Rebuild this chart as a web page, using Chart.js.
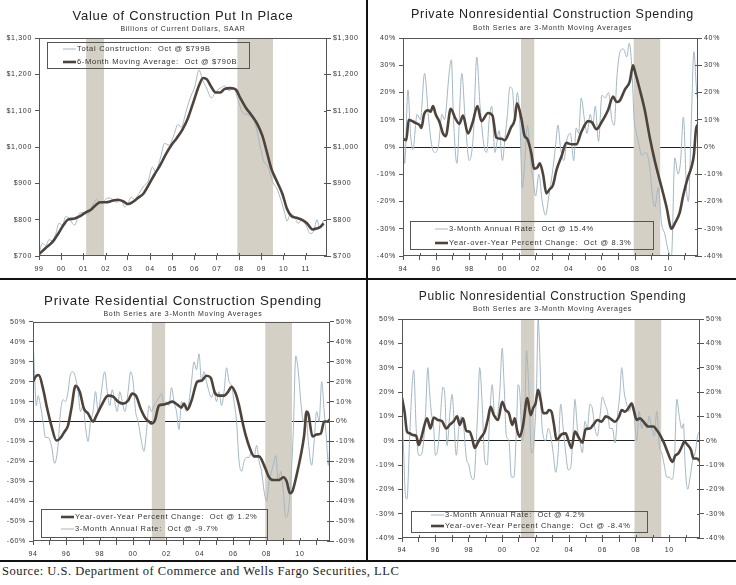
<!DOCTYPE html>
<html>
<head>
<meta charset="utf-8">
<script src="https://cdn.jsdelivr.net/npm/chart.js@4.4.0/dist/chart.umd.min.js"></script>
<style>
  body { margin: 0; background: #fff; width: 736px; height: 585px; position: relative; overflow: hidden; }
  .panel { position: absolute; }
  .vline { position: absolute; left: 366px; top: 0; width: 2px; height: 561px; background: #111; }
  .hline { position: absolute; left: 0; width: 736px; height: 2px; background: #111; }
  .source { position: absolute; left: 2px; top: 564px; font: 12.5px "Liberation Serif", serif; letter-spacing: 0.5px; color: #222; }
</style>
</head>
<body>
<div class="panel" style="left:0;top:0;width:366px;height:278px"><canvas id="chartTotal"></canvas></div>
<div class="panel" style="left:369px;top:0;width:367px;height:278px"><canvas id="chartPrivNonres"></canvas></div>
<div class="panel" style="left:0;top:281px;width:366px;height:279px"><canvas id="chartResidential"></canvas></div>
<div class="panel" style="left:369px;top:281px;width:367px;height:279px"><canvas id="chartPublic"></canvas></div>
<div class="vline"></div>
<div class="hline" style="top:278px"></div>
<div class="hline" style="top:560px"></div>
<div class="source">Source: U.S. Department of Commerce and Wells Fargo Securities, LLC</div>

<script>
// recession periods (decimal years)
const recessions = [[2001.12, 2001.92], [2007.92, 2009.52]];

// Value of Construction Put In Place, $ billions SAAR
const totalConstruction = [[1999.0,705],[1999.15,735],[1999.3,728],[1999.45,745],[1999.6,742],[1999.75,760],[1999.9,790],[2000.05,785],[2000.2,808],[2000.35,805],[2000.5,790],[2000.6,785],[2000.8,815],[2001.0,820],[2001.2,815],[2001.4,838],[2001.6,856],[2001.75,842],[2001.9,850],[2002.1,860],[2002.3,856],[2002.5,848],[2002.7,855],[2002.85,835],[2003.0,845],[2003.15,862],[2003.3,855],[2003.5,872],[2003.7,892],[2003.9,905],[2004.1,945],[2004.25,932],[2004.45,968],[2004.65,1010],[2004.85,1005],[2005.05,1030],[2005.25,1062],[2005.4,1055],[2005.6,1095],[2005.8,1135],[2006.0,1165],[2006.2,1212],[2006.35,1185],[2006.55,1160],[2006.75,1135],[2006.95,1152],[2007.15,1162],[2007.35,1168],[2007.55,1155],[2007.75,1162],[2007.95,1130],[2008.15,1095],[2008.35,1090],[2008.55,1082],[2008.75,1058],[2008.95,1000],[2009.1,962],[2009.3,945],[2009.5,905],[2009.7,885],[2009.9,850],[2010.05,818],[2010.15,796],[2010.3,815],[2010.5,808],[2010.65,790],[2010.85,800],[2011.0,785],[2011.2,762],[2011.35,768],[2011.5,800],[2011.62,776],[2011.8,799]];
const totalMovingAvg = [[1999.0,705],[1999.3,722],[1999.6,738],[1999.85,760],[2000.1,785],[2000.3,800],[2000.6,803],[2000.85,810],[2001.1,820],[2001.35,828],[2001.55,840],[2001.75,848],[2002.0,848],[2002.3,852],[2002.55,855],[2002.8,850],[2003.0,843],[2003.2,848],[2003.45,860],[2003.7,872],[2003.95,898],[2004.2,925],[2004.45,950],[2004.7,980],[2004.95,1005],[2005.2,1025],[2005.45,1048],[2005.7,1080],[2005.95,1125],[2006.2,1170],[2006.38,1190],[2006.55,1186],[2006.75,1165],[2006.95,1150],[2007.15,1150],[2007.35,1160],[2007.6,1162],[2007.85,1158],[2008.05,1135],[2008.3,1108],[2008.55,1088],[2008.8,1065],[2009.05,1030],[2009.25,985],[2009.45,940],[2009.7,905],[2009.95,870],[2010.15,830],[2010.35,810],[2010.6,805],[2010.85,799],[2011.05,790],[2011.3,773],[2011.5,776],[2011.65,780],[2011.8,790]];

// Private nonresidential, %
const privNonresRate = [[1994.0,10],[1994.1,-6],[1994.3,21],[1994.45,5],[1994.6,-1],[1994.85,12],[1995.05,10],[1995.3,27],[1995.55,10],[1995.75,0],[1995.95,-2],[1996.15,1],[1996.35,12],[1996.5,10],[1996.8,28],[1996.92,32],[1997.05,10],[1997.25,-6],[1997.55,27],[1997.75,10],[1998.0,-5],[1998.25,5],[1998.45,33],[1998.65,15],[1998.9,0],[1999.05,-2],[1999.2,10],[1999.35,15],[1999.55,-2],[1999.8,6],[2000.0,-5],[2000.15,3],[2000.3,12],[2000.45,22],[2000.6,21],[2000.75,10],[2000.9,20],[2001.05,10],[2001.2,-15],[2001.35,-5],[2001.5,8],[2001.7,-5],[2001.85,-12],[2002.0,-18],[2002.2,-10],[2002.4,-20],[2002.6,-25],[2002.8,-18],[2003.0,-10],[2003.2,0],[2003.35,8],[2003.5,0],[2003.7,-5],[2003.9,3],[2004.1,5],[2004.3,-5],[2004.45,7],[2004.6,5],[2004.75,18],[2004.95,10],[2005.1,5],[2005.3,12],[2005.45,8],[2005.6,15],[2005.8,2],[2006.0,19],[2006.2,18],[2006.4,20],[2006.6,10],[2006.75,8],[2006.9,25],[2007.1,35],[2007.3,36],[2007.5,33],[2007.65,38],[2007.8,30],[2007.95,10],[2008.05,6],[2008.2,2],[2008.4,-3],[2008.6,-2],[2008.75,-3],[2008.9,-8],[2009.05,-18],[2009.2,-22],[2009.4,-15],[2009.6,-28],[2009.8,-32],[2010.0,-38],[2010.2,-40],[2010.4,-4],[2010.6,-10],[2010.75,-5],[2010.92,11],[2011.1,-15],[2011.22,-20],[2011.4,10],[2011.55,35],[2011.7,22],[2011.8,15.4]];
const privNonresYoY = [[1994.0,3],[1994.2,2.5],[1994.34,10],[1994.7,9],[1995.0,8],[1995.11,7],[1995.27,12],[1995.51,13.5],[1995.67,13],[1995.81,15],[1995.97,12],[1996.21,9],[1996.41,5],[1996.58,4],[1996.88,14],[1997.16,10.5],[1997.4,8.5],[1997.62,11.5],[1997.92,5],[1998.2,9],[1998.49,15],[1998.73,9.5],[1999.13,12.5],[1999.4,11.5],[1999.63,3.5],[1999.94,3],[2000.14,2.5],[2000.34,4.5],[2000.5,7],[2000.74,10],[2000.88,16],[2001.14,10.5],[2001.34,4],[2001.5,3],[2001.75,-2.5],[2001.91,-8],[2002.11,-7.5],[2002.25,-6],[2002.45,-10],[2002.65,-17],[2002.85,-15.5],[2003.05,-14],[2003.26,-8.5],[2003.56,-3.5],[2003.86,1.5],[2004.16,1],[2004.46,1],[2004.76,5.5],[2005.17,9.5],[2005.41,9],[2005.67,6.5],[2005.97,9],[2006.37,13.5],[2006.68,18.5],[2006.88,16.5],[2007.08,17],[2007.38,21],[2007.68,24],[2007.88,30],[2007.98,28],[2008.29,21],[2008.59,13.5],[2008.89,3.5],[2009.19,-5],[2009.59,-14.5],[2009.9,-22],[2010.2,-30],[2010.4,-28],[2010.7,-24],[2010.9,-18],[2011.2,-11],[2011.4,-7.5],[2011.55,-3],[2011.68,6.5],[2011.8,8.3]];

// Private residential, %
const residentialYoY = [[1994.0,20],[1994.2,23],[1994.35,23.3],[1994.6,16.5],[1994.85,6.5],[1995.1,-2],[1995.4,-9.5],[1995.6,-8.7],[1995.9,-5],[1996.1,-2],[1996.3,6.5],[1996.55,18],[1996.8,15],[1997.05,6.5],[1997.3,4],[1997.6,0],[1997.8,3],[1998.1,8],[1998.5,13],[1998.8,12.5],[1999.1,10],[1999.4,9],[1999.7,10.5],[1999.95,14],[2000.2,12.5],[2000.45,6.5],[2000.75,1.5],[2000.95,0],[2001.1,-1],[2001.3,0.5],[2001.55,8],[2001.8,8.5],[2002.05,9],[2002.35,10],[2002.65,8.5],[2002.9,7],[2003.05,9],[2003.25,6],[2003.5,10.5],[2003.85,20],[2004.1,20.5],[2004.4,23],[2004.65,22],[2004.9,14.5],[2005.15,13],[2005.45,13],[2005.7,15],[2005.9,17.5],[2006.15,14],[2006.35,8],[2006.55,0],[2006.75,-7],[2007.0,-13.5],[2007.25,-17.5],[2007.55,-17.5],[2007.85,-22],[2008.15,-28],[2008.4,-29.4],[2008.75,-29.4],[2009.0,-28],[2009.2,-30],[2009.4,-36],[2009.55,-35],[2009.85,-25],[2010.05,-17],[2010.25,-7],[2010.4,5],[2010.5,4],[2010.75,-7.5],[2011.0,-6.5],[2011.25,-6],[2011.45,0],[2011.65,0],[2011.8,1.2]];
const residentialRate = [[1994.0,43],[1994.1,22],[1994.2,8],[1994.3,13],[1994.45,8],[1994.6,0],[1994.75,-8],[1994.9,-8],[1995.1,-12],[1995.3,-21],[1995.5,-12],[1995.65,5],[1995.8,11],[1995.95,10],[1996.1,15],[1996.25,24],[1996.4,25],[1996.55,22],[1996.7,15],[1996.85,5],[1997.0,8],[1997.15,-3],[1997.3,-10],[1997.45,0],[1997.6,5],[1997.75,15],[1997.9,5],[1998.05,12],[1998.3,25],[1998.45,15],[1998.6,8],[1998.75,16],[1998.9,10],[1999.05,5],[1999.2,15],[1999.35,10],[1999.5,5],[1999.7,15],[1999.85,25],[2000.0,20],[2000.15,5],[2000.3,0],[2000.5,-10],[2000.65,-15],[2000.8,-5],[2000.95,8],[2001.1,5],[2001.25,8],[2001.4,10],[2001.55,12],[2001.7,14],[2001.85,8],[2002.0,10],[2002.15,8],[2002.3,17],[2002.45,10],[2002.6,5],[2002.75,-4],[2002.9,10],[2003.05,8],[2003.2,5],[2003.35,10],[2003.5,20],[2003.65,30],[2003.8,26],[2003.95,34],[2004.1,20],[2004.25,25],[2004.4,20],[2004.55,15],[2004.7,12],[2004.85,15],[2005.0,10],[2005.15,15],[2005.3,8],[2005.45,15],[2005.6,27],[2005.75,20],[2005.9,18],[2006.05,10],[2006.2,0],[2006.35,-20],[2006.5,-25],[2006.65,-20],[2006.8,-18],[2006.95,-18],[2007.1,-15],[2007.25,-18],[2007.4,-12],[2007.55,-20],[2007.7,-25],[2007.85,-35],[2008.0,-40],[2008.15,-30],[2008.3,-25],[2008.45,-20],[2008.55,-17],[2008.7,-30],[2008.85,-25],[2009.0,-35],[2009.15,-48],[2009.3,-45],[2009.45,-30],[2009.6,-5],[2009.75,33],[2009.9,25],[2010.05,10],[2010.2,0],[2010.35,5],[2010.5,-10],[2010.7,-22],[2010.85,-10],[2011.0,5],[2011.15,0],[2011.3,20],[2011.45,5],[2011.6,-10],[2011.7,-22],[2011.8,-9.7]];

// Public nonresidential, %
const publicRate = [[1994.0,15],[1994.1,-5],[1994.2,-22],[1994.3,-24],[1994.45,0],[1994.6,22],[1994.7,29],[1994.85,5],[1995.0,-6],[1995.1,-6],[1995.25,-3],[1995.4,10],[1995.55,30],[1995.65,20],[1995.75,12],[1995.9,5],[1996.0,-6],[1996.15,-3],[1996.3,10],[1996.45,22],[1996.55,20],[1996.7,-2],[1996.85,10],[1997.0,19],[1997.1,10],[1997.25,-6],[1997.4,5],[1997.55,10],[1997.7,5],[1997.85,-7],[1998.0,-10],[1998.15,-15],[1998.3,-16],[1998.45,0],[1998.55,15],[1998.65,30],[1998.8,15],[1998.95,-8],[1999.1,-10],[1999.25,10],[1999.4,23],[1999.55,10],[1999.7,10],[1999.85,20],[2000.0,38],[2000.1,25],[2000.25,2],[2000.4,0],[2000.55,-15],[2000.7,-15],[2000.85,5],[2000.95,23],[2001.05,20],[2001.2,0],[2001.35,10],[2001.45,37],[2001.6,20],[2001.75,-5],[2001.85,-4],[2001.95,5],[2002.05,20],[2002.15,50],[2002.25,35],[2002.35,10],[2002.45,2],[2002.6,0],[2002.75,5],[2002.9,2],[2003.05,-5],[2003.2,-13],[2003.35,-5],[2003.5,15],[2003.65,5],[2003.8,-5],[2003.95,-12],[2004.1,-11],[2004.25,5],[2004.35,17],[2004.5,5],[2004.65,0],[2004.8,-5],[2004.95,8],[2005.1,5],[2005.25,15],[2005.4,13],[2005.55,5],[2005.7,2],[2005.85,10],[2006.0,18],[2006.15,15],[2006.3,12],[2006.45,5],[2006.6,5],[2006.75,-1],[2006.9,10],[2007.05,20],[2007.15,30],[2007.3,20],[2007.45,15],[2007.6,12],[2007.75,14],[2007.9,10],[2008.05,0],[2008.2,12],[2008.35,5],[2008.5,8],[2008.65,5],[2008.8,10],[2008.95,5],[2009.1,2],[2009.25,12],[2009.4,-2],[2009.55,-5],[2009.7,-10],[2009.85,-15],[2010.0,-15],[2010.15,-16],[2010.3,-10],[2010.45,17],[2010.6,10],[2010.75,5],[2010.85,7],[2010.95,-10],[2011.1,-20],[2011.25,-15],[2011.4,-8],[2011.55,-5],[2011.7,2],[2011.84,4.2]];
const publicYoY = [[1994.0,17.5],[1994.15,12],[1994.3,3.7],[1994.45,3],[1994.65,2.3],[1994.85,2],[1995.0,-1.8],[1995.15,1],[1995.35,6.5],[1995.5,9.2],[1995.7,5],[1995.9,9.5],[1996.15,8.5],[1996.4,8],[1996.65,5],[1996.85,6.5],[1997.1,8],[1997.3,10],[1997.45,6.5],[1997.65,9.2],[1997.85,4],[1998.05,3.7],[1998.2,1],[1998.35,-3],[1998.55,-0.7],[1998.75,1.6],[1998.95,3.7],[1999.15,9.2],[1999.3,13.9],[1999.5,10.5],[1999.75,8.5],[2000.0,16],[2000.2,12.6],[2000.4,11.3],[2000.6,6.5],[2000.75,9.2],[2000.9,4],[2001.05,1.6],[2001.25,6.5],[2001.5,17.5],[2001.7,10.5],[2001.85,13.3],[2002.0,15.4],[2002.15,20.9],[2002.3,16.8],[2002.45,11.3],[2002.65,11.3],[2002.8,12.6],[2002.95,11.9],[2003.1,6.5],[2003.25,0.3],[2003.55,2.6],[2003.8,3],[2003.95,0.3],[2004.15,-3],[2004.35,3.7],[2004.6,1],[2004.8,-0.8],[2005.0,4.8],[2005.25,5],[2005.45,6.5],[2005.7,8.5],[2005.95,7.8],[2006.2,10],[2006.45,9.2],[2006.75,7.8],[2007.0,10],[2007.15,12.6],[2007.35,11.9],[2007.55,13.3],[2007.75,15.4],[2007.9,11.9],[2008.05,8.5],[2008.25,9.2],[2008.45,7.8],[2008.75,5.8],[2009.05,5.8],[2009.25,4.4],[2009.45,2.3],[2009.65,-0.4],[2009.85,-3.8],[2010.05,-7.3],[2010.2,-8.7],[2010.35,-6.2],[2010.55,-5.2],[2010.75,-2.5],[2010.9,-0.4],[2011.1,-1.8],[2011.3,-3.8],[2011.45,-7.3],[2011.65,-7.3],[2011.84,-8.4]];

const THICK = '#4d433b';
const THIN = '#a3b7c3';
const FONT = '"Liberation Sans", Arial, sans-serif';

Chart.defaults.font.family = FONT;
Chart.defaults.color = '#333';

const toPoints = (pairs) => pairs.map(([x, y]) => ({ x, y }));

// letter spaced text, recession bands, plot frame, inner tick marks
const decor = {
  id: 'decor',
  beforeDraw(chart) {
    chart.ctx.letterSpacing = '0.7px';
  },
  beforeDatasetsDraw(chart) {
    const { ctx, chartArea: a, scales } = chart;
    ctx.save();
    ctx.fillStyle = '#d5d0c5';
    recessions.forEach(([s, e]) => {
      const x0 = scales.x.getPixelForValue(s);
      const x1 = scales.x.getPixelForValue(e);
      ctx.fillRect(x0, a.top, x1 - x0, a.bottom - a.top);
    });
    ctx.restore();
  },
  afterDatasetsDraw(chart) {
    const { ctx, chartArea: a, scales } = chart;
    ctx.save();
    ctx.strokeStyle = '#555';
    ctx.lineWidth = 1;
    ctx.strokeRect(a.left + 0.5, a.top + 0.5, a.right - a.left - 1, a.bottom - a.top - 1);
    ctx.beginPath();
    scales.x.ticks.forEach((t) => {
      const x = Math.round(scales.x.getPixelForValue(t.value)) + 0.5;
      ctx.moveTo(x, a.bottom);
      ctx.lineTo(x, a.bottom - 3);
    });
    scales.y2.ticks.forEach((t) => {
      const y = Math.round(scales.y2.getPixelForValue(t.value)) + 0.5;
      ctx.moveTo(a.right, y);
      ctx.lineTo(a.right - 3, y);
    });
    ctx.stroke();
    ctx.restore();
  }
};

const boxLegend = {
  id: 'boxLegend',
  afterDatasetsDraw(chart, args, opts) {
    const ctx = chart.ctx;
    ctx.save();
    ctx.strokeStyle = '#555';
    ctx.lineWidth = 1;
    ctx.strokeRect(opts.x + 0.5, opts.y + 0.5, opts.w, opts.h);
    ctx.font = '7.5px ' + FONT;
    ctx.textBaseline = 'middle';
    opts.order.forEach((di, i) => {
      const ds = chart.data.datasets[di];
      const y = opts.y + opts.rows[i];
      ctx.strokeStyle = ds.borderColor;
      ctx.lineWidth = ds.borderWidth;
      ctx.beginPath();
      ctx.moveTo(opts.x + opts.lineX, y);
      ctx.lineTo(opts.x + opts.lineX + 13, y);
      ctx.stroke();
      ctx.fillStyle = '#333';
      ctx.fillText(ds.label, opts.x + opts.lineX + 14, y);
    });
    ctx.restore();
  }
};

function makePanel(id, cfg) {
  const yTicks = (side) => ({
    stepSize: cfg.step,
    padding: side === 'left' ? 3 : 2,
    font: { size: 7 },
    color: '#333',
    callback: cfg.fmt
  });
  return new Chart(document.getElementById(id), {
    type: 'line',
    data: {
      datasets: [
        { label: cfg.thick.label, data: toPoints(cfg.thick.data), borderColor: THICK, borderWidth: 2.6 },
        { label: cfg.thin.label, data: toPoints(cfg.thin.data), borderColor: THIN, borderWidth: 1 }
      ]
    },
    options: {
      responsive: true,
      maintainAspectRatio: false,
      animation: false,
      elements: { point: { radius: 0 }, line: { cubicInterpolationMode: 'monotone' } },
      layout: { padding: 0 },
      plugins: {
        legend: { display: false },
        tooltip: { enabled: false },
        title: { display: true, text: cfg.title, color: '#222', font: { size: cfg.titleSize, weight: 'normal' }, padding: { top: cfg.titleTop, bottom: 0 } },
        subtitle: { display: true, text: cfg.subtitle, color: '#333', font: { size: 7 }, padding: { top: cfg.subTop, bottom: cfg.subBottom } },
        boxLegend: cfg.legend
      },
      scales: {
        x: {
          type: 'linear',
          min: cfg.xMin,
          max: cfg.xMax,
          border: { display: false },
          grid: { drawOnChartArea: false, tickLength: 4, color: '#555' },
          ticks: {
            stepSize: 1,
            includeBounds: false,
            maxRotation: 0,
            autoSkip: false,
            padding: cfg.xPad,
            font: { size: 7 },
            color: '#333',
            callback: (v) => (v % cfg.labelEvery === 0 ? String(v).slice(2) : '')
          },
          afterFit: (s) => { s.height = cfg.xHeight; }
        },
        y: {
          position: 'left',
          min: cfg.yMin,
          max: cfg.yMax,
          border: { display: false },
          grid: {
            drawOnChartArea: true,
            tickLength: 4,
            tickColor: '#555',
            color: (c) => (c.tick && c.tick.value === 0 ? '#222' : 'rgba(0,0,0,0)')
          },
          ticks: yTicks('left'),
          afterFit: (s) => { s.width = cfg.left; }
        },
        y2: {
          position: 'right',
          display: true,
          min: cfg.yMin,
          max: cfg.yMax,
          border: { display: false },
          grid: { drawOnChartArea: false, tickLength: 4, color: '#555' },
          ticks: yTicks('right'),
          afterFit: (s) => { s.width = cfg.right; }
        }
      }
    },
    plugins: [decor, boxLegend]
  });
}

const dollars = (v) => '$' + v.toLocaleString('en-US');
const pct = (v) => v + '%';

makePanel('chartTotal', {
  title: 'Value of Construction Put In Place', titleSize: 13, titleTop: 8.2,
  subtitle: 'Billions of Current Dollars, SAAR', subTop: 1, subBottom: 4.8,
  xMin: 1999, xMax: 2011.95, labelEvery: 1, xPad: 5, xHeight: 22,
  yMin: 700, yMax: 1300, step: 100, fmt: dollars, left: 39, right: 39,
  thick: { label: '6-Month Moving Average:  Oct @ $790B', data: totalMovingAvg },
  thin: { label: 'Total Construction:  Oct @ $799B', data: totalConstruction },
  legend: { x: 47, y: 42, w: 202, h: 26, lineX: 16, rows: [7, 20], order: [1, 0] }
});

makePanel('chartPrivNonres', {
  title: 'Private Nonresidential Construction Spending', titleSize: 12.5, titleTop: 7.5,
  subtitle: 'Both Series are 3-Month Moving Averages', subTop: 1.3, subBottom: 5.8,
  xMin: 1994, xMax: 2011.8, labelEvery: 2, xPad: 5, xHeight: 22,
  yMin: -40, yMax: 40, step: 10, fmt: pct, left: 34, right: 38,
  thick: { label: 'Year-over-Year Percent Change:  Oct @ 8.3%', data: privNonresYoY },
  thin: { label: '3-Month Annual Rate:  Oct @ 15.4%', data: privNonresRate },
  legend: { x: 41, y: 221, w: 243, h: 28, lineX: 25, rows: [8, 22], order: [1, 0] }
});

makePanel('chartResidential', {
  title: 'Private Residential Construction Spending', titleSize: 13.3, titleTop: 12,
  subtitle: 'Both Series are 3-Month Moving Averages', subTop: 0.8, subBottom: 3.8,
  xMin: 1994, xMax: 2011.8, labelEvery: 2, xPad: 5, xHeight: 19,
  yMin: -60, yMax: 50, step: 10, fmt: pct, left: 33, right: 36,
  thick: { label: 'Year-over-Year Percent Change:  Oct @ 1.2%', data: residentialYoY },
  thin: { label: '3-Month Annual Rate:  Oct @ -9.7%', data: residentialRate },
  legend: { x: 41, y: 228, w: 226, h: 28, lineX: 20, rows: [8, 20], order: [0, 1] }
});

makePanel('chartPublic', {
  title: 'Public Nonresidential Construction Spending', titleSize: 12, titleTop: 8.8,
  subtitle: 'Both Series are 3-Month Moving Averages', subTop: 0.6, subBottom: 5.8,
  xMin: 1994, xMax: 2011.84, labelEvery: 2, xPad: 4, xHeight: 22,
  yMin: -40, yMax: 50, step: 10, fmt: pct, left: 33, right: 36,
  thick: { label: 'Year-over-Year Percent Change:  Oct @ -8.4%', data: publicYoY },
  thin: { label: '3-Month Annual Rate:  Oct @ 4.2%', data: publicRate },
  legend: { x: 42, y: 230, w: 236, h: 21, lineX: 20, rows: [4, 15], order: [1, 0] }
});
</script>
</body>
</html>
